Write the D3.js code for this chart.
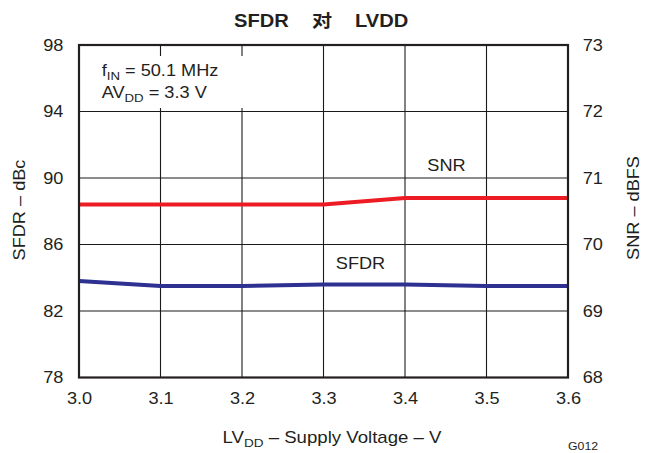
<!DOCTYPE html>
<html>
<head>
<meta charset="utf-8">
<script src="https://cdn.jsdelivr.net/npm/d3@7"></script>
<style>
  html, body { margin: 0; padding: 0; background: #fff; }
  svg { display: block; font-family: "Liberation Sans", Arial, "Noto Sans CJK SC", sans-serif; }
</style>
</head>
<body>
<svg id="chart" width="646" height="453"></svg>
<script>
// Supply voltage sweep (V)
const voltage = [3.0, 3.1, 3.2, 3.3, 3.4, 3.5, 3.6];
// SFDR (dBc), left axis
const sfdr = [83.8, 83.5, 83.5, 83.6, 83.6, 83.5, 83.5];
// SNR (dBFS), right axis
const snr = [70.6, 70.6, 70.6, 70.6, 70.7, 70.7, 70.7];
// Tick labels
const xTicks = [3.0, 3.1, 3.2, 3.3, 3.4, 3.5, 3.6];
const leftTicks = [78, 82, 86, 90, 94, 98];
const rightTicks = [68, 69, 70, 71, 72, 73];

const svg = d3.select("#chart");
const m = { left: 79, right: 568, top: 45, bottom: 377.5 };
const SX = 1.15;          // horizontal widening of the lettering
const ink = "#231f20";

const x = d3.scaleLinear().domain([3.0, 3.6]).range([m.left, m.right]);
const yL = d3.scaleLinear().domain([78, 98]).range([m.bottom, m.top]);
const yR = d3.scaleLinear().domain([68, 73]).range([m.bottom, m.top]);

// Grid
const grid = svg.append("g").attr("stroke", "#1a1a1a").attr("stroke-width", 1.1);
xTicks.slice(1, -1).forEach(v => {
  grid.append("line").attr("x1", x(v)).attr("x2", x(v)).attr("y1", m.top).attr("y2", m.bottom);
});
leftTicks.slice(1, -1).forEach(v => {
  grid.append("line").attr("x1", m.left).attr("x2", m.right).attr("y1", yL(v)).attr("y2", yL(v));
});

// Axes (tick labels only; frame drawn separately)
const fs = 15.8;
const axB = svg.append("g").attr("transform", `translate(0,${m.bottom})`)
  .call(d3.axisBottom(x).tickValues(xTicks).tickFormat(d3.format(".1f")).tickSize(0).tickPadding(15));
const axL = svg.append("g").attr("transform", `translate(${m.left},0)`)
  .call(d3.axisLeft(yL).tickValues(leftTicks).tickFormat(d3.format("d")).tickSize(0).tickPadding(13.6));
const axR = svg.append("g").attr("transform", `translate(${m.right},0)`)
  .call(d3.axisRight(yR).tickValues(rightTicks).tickFormat(d3.format("d")).tickSize(0).tickPadding(12.8));
[axB, axL, axR].forEach(a => {
  a.select(".domain").remove();
  a.selectAll("text").attr("font-size", fs).attr("fill", ink)
    .attr("font-family", "'Liberation Sans', Arial, sans-serif")
    .attr("transform", `scale(${SX},1)`);
});

// Series lines
const lineL = d3.line().x((d, i) => x(voltage[i])).y(d => yL(d));
const lineR = d3.line().x((d, i) => x(voltage[i])).y(d => yR(d));
svg.append("path").datum(snr).attr("d", lineR).attr("fill", "none")
  .attr("stroke", "#ed1c24").attr("stroke-width", 4);
svg.append("path").datum(sfdr).attr("d", lineL).attr("fill", "none")
  .attr("stroke", "#2e3192").attr("stroke-width", 4);

// Conditions panel, masking the grid behind it
svg.append("rect").attr("x", m.left + 1).attr("y", 56).attr("width", 182).attr("height", 52)
  .attr("fill", "#fff");

// Frame
svg.append("rect").attr("x", m.left).attr("y", m.top)
  .attr("width", m.right - m.left).attr("height", m.bottom - m.top)
  .attr("fill", "none").attr("stroke", ink).attr("stroke-width", 2.2);

// Text helper: widened lettering, optional rotation
const txt = (xp, yp, size, anchor, rot) => svg.append("text")
  .attr("transform", `translate(${xp},${yp})${rot ? ` rotate(${rot})` : ""} scale(${SX},1)`)
  .attr("font-size", size).attr("text-anchor", anchor || "start").attr("fill", ink);

// Title
const tf = "'Liberation Sans', Arial, 'Noto Sans CJK SC', sans-serif";
txt(234, 27, 17.5).attr("font-weight", "bold").attr("font-family", tf).text("SFDR");
txt(312, 27, 17.5).attr("font-weight", "bold").attr("font-family", "'Noto Sans CJK SC', sans-serif").text("对");
txt(355, 27, 17.5).attr("font-weight", "bold").attr("font-family", tf).text("LVDD");

// Conditions
const c1 = txt(101.7, 76, fs);
c1.append("tspan").text("f");
c1.append("tspan").attr("font-size", 11.5).attr("dy", 4).text("IN");
c1.append("tspan").attr("dy", -4).text(" = 50.1 MHz");
const c2 = txt(101.7, 98, fs);
c2.append("tspan").text("AV");
c2.append("tspan").attr("font-size", 11.5).attr("dy", 4).text("DD");
c2.append("tspan").attr("dy", -4).text(" = 3.3 V");

// Series labels
txt(446.5, 171, fs, "middle").text("SNR");
txt(360.5, 269, fs, "middle").text("SFDR");

// Axis titles
txt(25, 210, fs, "middle", -90).text("SFDR – dBc");
txt(639, 208, fs, "middle", -90).text("SNR – dBFS");
const xl = txt(332, 443, fs + 0.4, "middle");
xl.append("tspan").text("LV");
xl.append("tspan").attr("font-size", 11.8).attr("dy", 4).text("DD");
xl.append("tspan").attr("dy", -4).text(" – Supply Voltage – V");

// Figure id
txt(568, 450, 10.7).text("G012");
</script>
</body>
</html>
